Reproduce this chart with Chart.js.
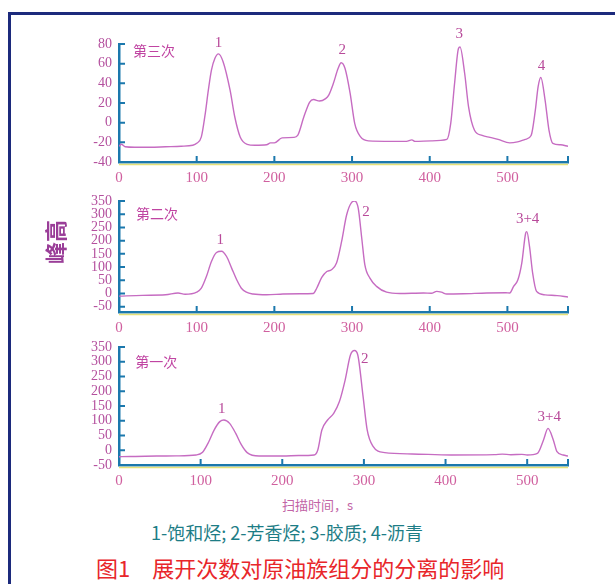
<!DOCTYPE html>
<html>
<head>
<meta charset="utf-8">
<script src="https://cdn.jsdelivr.net/npm/chart.js@4.4.1/dist/chart.umd.min.js"></script>
<style>
  body { margin: 0; background: #fff; width: 615px; height: 584px; overflow: hidden; position: relative; }
  #frame { position: absolute; left: 8px; top: 12px; width: 640px; height: 600px; border-top: 3px solid #1c2a7c; border-left: 3px solid #1c2a7c; }
  canvas { position: absolute; left: 0; }
  .txt { position: absolute; white-space: pre; font-family: "Noto Sans CJK SC", sans-serif; line-height: 1; }
</style>
</head>
<body>
<div id="frame"></div>
<canvas id="c3" width="615" height="170" style="top:25px"></canvas>
<canvas id="c2" width="615" height="160" style="top:185px"></canvas>
<canvas id="c1" width="615" height="165" style="top:330px"></canvas>

<div class="txt" style="left:30px;top:231px;width:48px;text-align:center;font-size:22px;font-weight:bold;color:#9a3e98;transform:rotate(-90deg);">峰高</div>
<div class="txt" style="left:282px;top:498px;font-size:13px;color:#c264a6;">扫描时间，s</div>
<div class="txt" style="left:151px;top:523px;font-size:18px;color:#1d7d86;">1-饱和烃; 2-芳香烃; 3-胶质; 4-沥青</div>
<div class="txt" style="left:96px;top:556px;font-size:22px;color:#e8262a;">图1　展开次数对原油族组分的分离的影响</div>

<script>
'use strict';
// 第三次 (top panel)
let time3 = [0, 3, 8, 20, 40, 60, 80, 95, 100, 106, 111, 115, 119, 123.5, 128, 134, 143, 149, 156, 165, 175, 190, 195, 200, 210, 225, 230, 238, 245.5, 250.5, 258, 266, 270, 276, 282, 286, 291, 297.5, 303.5, 311, 321, 351, 370, 377, 381, 402, 422, 427, 432, 437, 439, 445, 450, 457.5, 467.5, 477.5, 488, 503, 513, 523, 530.5, 536, 539.5, 543, 548.5, 553.5, 558.5, 568.5, 578]
let height3 = [-24, -22, -24.5, -25, -25, -24.5, -24, -23, -21, -14.5, 9, 33, 53.5, 65.5, 70, 62, 33, 6, -14.5, -22, -23, -22.5, -20.5, -20.5, -15.5, -15, -13, 6, 21, 23.5, 22, 24.5, 28, 40, 55, 61, 55, 30, -1, -14.5, -18.5, -19, -19, -17.5, -19, -18.5, -17, -1, 40, 75.5, 77, 50, 16, -7.5, -13, -15, -17, -20.5, -19.5, -17, -13, 13, 36.5, 46, 23, -7.5, -21, -22.5, -24]
let peakText3 = ['1', '2', '3', '4']
let peakX3 = [128, 287.5, 438, 544]
let peakY3 = [81, 74, 90, 57.5]

// 第二次 (middle panel)
let time2 = [0, 30, 60, 76, 85, 100, 106, 112.5, 119, 125.5, 132, 138.5, 145, 151.5, 157.5, 164, 172.5, 190, 211, 233, 250, 254.5, 261, 267.5, 273.5, 280, 286.5, 293, 299.5, 303.5, 308, 312.5, 316.5, 323, 331.5, 344.5, 361.5, 392, 402, 409, 415, 422, 443, 473.5, 498, 503, 508, 513.5, 518.5, 523.5, 525, 528.5, 532.5, 537.5, 548.5, 564, 578]
let height2 = [-10, -7, -5, 2, -3, 5, 20, 64, 121, 155, 160, 140, 96, 52, 20, 5, -2, -5, -2, -1, 0, 20, 61, 83, 90, 115, 196, 297, 345, 350, 322, 209, 108, 58, 27, 5, 0, 2, 1, 8, 5, -2, -1, 2, 3, 2, 27, 52, 115, 228, 234, 177, 77, 8, -5, -8, -13]
let peakText2 = ['1', '2', '3+4']
let peakX2 = [130.5, 318, 526]
let peakY2 = [203, 310, 281]

// 第一次 (bottom panel)
let time1 = [0, 3.5, 20, 46.5, 70, 94.5, 102, 109, 116.5, 123.5, 128.5, 135.5, 143, 150, 157, 171.5, 200.5, 220, 239, 243.5, 248.5, 255.5, 263, 270, 277, 283.5, 288.5, 292.5, 299, 304, 311, 325.5, 359, 407, 460, 469.5, 480, 493.5, 500, 512.5, 520, 525.5, 532, 536.5, 544, 550]
let height1 = [-22, -21.5, -21, -19.5, -19, -16, -8, 23.5, 68.5, 97, 102.5, 91, 57, 18, -8, -19.5, -19.5, -18, -16, 1, 68.5, 102.5, 125, 165, 238, 323, 338, 323, 182, 69, 14, -8, -12.5, -16, -15, -13, -15, -14, -16, -10.5, 35, 74, 35, -5, -16, -19.5]
let peakText1 = ['1', '2', '3+4']
let peakX1 = [126, 301, 527]
let peakY1 = [139, 308, 114]

let lineColor = '#c66cc2'
let axisColor = '#1b78ad'
let yTickColor = '#b4509e'
let xTickColor = '#d0609f'
let labelColor = '#b84a9a'

// inward tick marks, peak numbers and the panel name
let decor = {
    id: 'decor',
    afterDraw(chart) {
        let opts = chart.options.plugins.decor
        let ctx = chart.ctx
        let xs = chart.scales.x
        let ys = chart.scales.y
        let a = chart.chartArea
        ctx.save()
        ctx.strokeStyle = '#e6e27a'
        ctx.lineWidth = 1.5
        ctx.beginPath()
        ctx.moveTo(a.left, a.bottom + 2.5)
        ctx.lineTo(a.right, a.bottom + 2.5)
        ctx.stroke()

        ctx.strokeStyle = axisColor
        ctx.lineWidth = 2
        ctx.beginPath()
        ys.ticks.forEach(t => {
            let y = ys.getPixelForValue(t.value)
            ctx.moveTo(a.left, y)
            ctx.lineTo(a.left + 6, y)
        })
        let xt = xs.ticks.map(t => t.value).filter(v => v > 0)
        xt.push(xs.max)
        xt.forEach(v => {
            let x = xs.getPixelForValue(v)
            ctx.moveTo(x, a.bottom)
            ctx.lineTo(x, a.bottom - 6)
        })
        ctx.stroke()

        ctx.fillStyle = labelColor
        ctx.font = '15px "Liberation Serif"'
        ctx.textAlign = 'center'
        ctx.textBaseline = 'middle'
        for (let i = 0; i < opts.text.length; i++) {
            ctx.fillText(opts.text[i], xs.getPixelForValue(opts.x[i]), ys.getPixelForValue(opts.y[i]))
        }
        ctx.fillStyle = '#c044a2'
        ctx.font = '14px "Noto Sans CJK SC"'
        ctx.textAlign = 'left'
        ctx.fillText(opts.name, xs.getPixelForValue(opts.nameX), ys.getPixelForValue(opts.nameY))
        ctx.restore()
    }
}

// ticks at every step between min and max (Chart.js drops the one next to an odd min)
function stepTicks(s, step) {
    let list = []
    for (let v = Math.ceil(s.min / step) * step; v <= s.max; v += step) {
        list.push({ value: v })
    }
    s.ticks = list
}

function makeChart(id, xs, ys, cfg) {
    let points = []
    for (let i = 0; i < xs.length; i++) {
        points.push({ x: xs[i], y: ys[i] })
    }
    let ctx = document.getElementById(id).getContext('2d')
    return new Chart(ctx, {
        type: 'line',
        data: {
            datasets: [{
                data: points,
                borderColor: lineColor,
                borderWidth: 1.4,
                pointRadius: 0,
                cubicInterpolationMode: 'monotone',
                fill: false
            }]
        },
        options: {
            responsive: false,
            animation: false,
            events: [],
            layout: { padding: { left: 0, right: 47, top: cfg.padTop, bottom: 0 } },
            plugins: {
                legend: { display: false },
                tooltip: { enabled: false },
                decor: cfg.decor
            },
            scales: {
                x: {
                    type: 'linear',
                    min: 0,
                    max: cfg.xMax,
                    border: { color: axisColor, width: 2.5 },
                    grid: { display: true, drawOnChartArea: false, drawTicks: false },
                    ticks: {
                        autoSkip: false, maxRotation: 0, padding: 7,
                        color: xTickColor, font: { family: 'Liberation Serif', size: 15 }
                    },
                    afterBuildTicks: s => stepTicks(s, 100),
                    afterFit: s => { s.height = cfg.xH }
                },
                y: {
                    min: cfg.yMin,
                    max: cfg.yMax,
                    border: { color: axisColor, width: 2.5 },
                    grid: { display: true, drawOnChartArea: false, drawTicks: false },
                    ticks: {
                        autoSkip: false, padding: 7,
                        color: yTickColor, font: { family: 'Liberation Serif', size: 14 }
                    },
                    afterBuildTicks: s => stepTicks(s, cfg.yStep),
                    afterFit: s => { s.width = 119 }
                }
            }
        },
        plugins: [decor]
    })
}

makeChart('c3', time3, height3, {
    padTop: 19, xH: 33, xMax: 578, yMin: -40, yMax: 80, yStep: 20,
    decor: { text: peakText3, x: peakX3, y: peakY3, name: '第三次', nameX: 18, nameY: 73 }
})
makeChart('c2', time2, height2, {
    padTop: 16, xH: 33, xMax: 578, yMin: -70, yMax: 350, yStep: 50,
    decor: { text: peakText2, x: peakX2, y: peakY2, name: '第二次', nameX: 22, nameY: 301 }
})
makeChart('c1', time1, height1, {
    padTop: 17, xH: 30, xMax: 550, yMin: -50, yMax: 350, yStep: 50,
    decor: { text: peakText1, x: peakX1, y: peakY1, name: '第一次', nameX: 20, nameY: 300 }
})
</script>
</body>
</html>
